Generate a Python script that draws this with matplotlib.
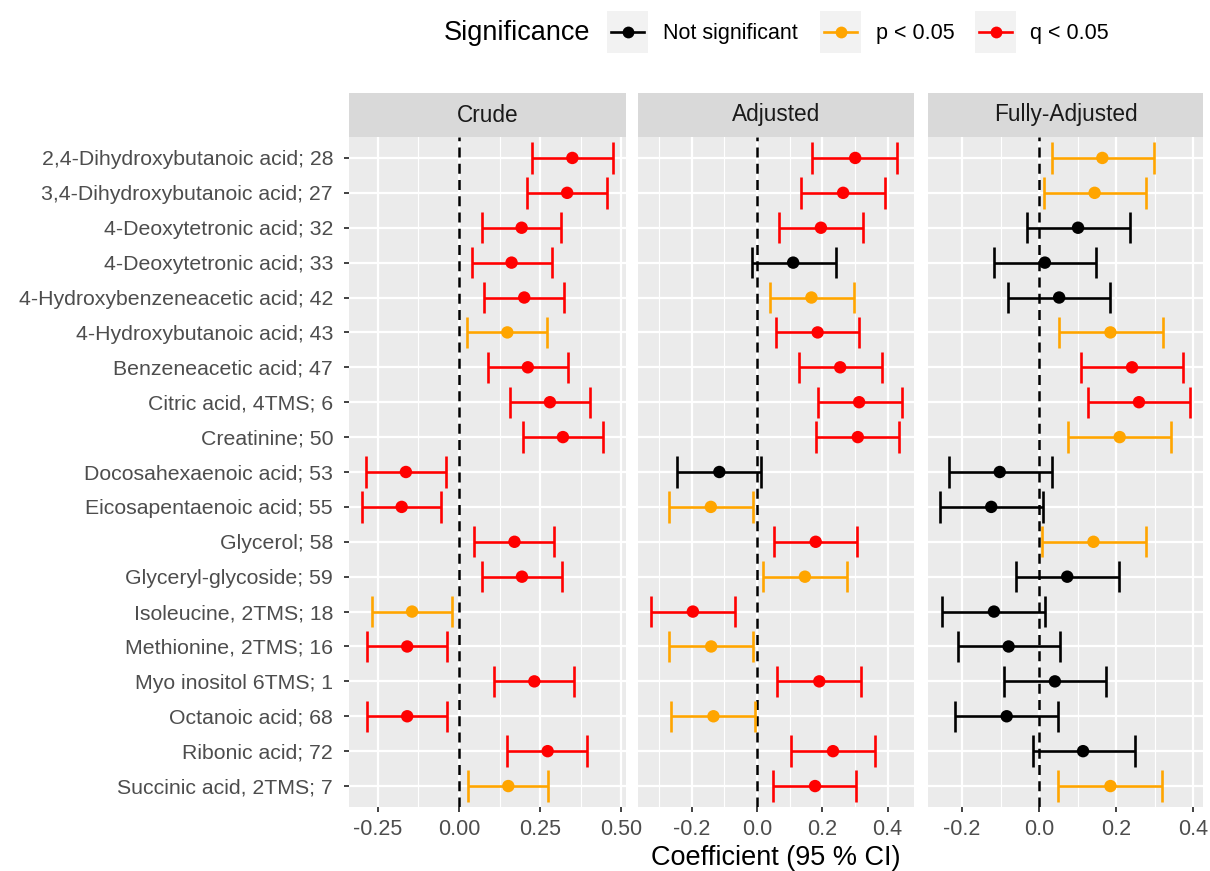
import numpy as np
import matplotlib
matplotlib.use("Agg")
import matplotlib.pyplot as plt
from matplotlib.lines import Line2D
from matplotlib.patches import Rectangle
from matplotlib.ticker import FixedLocator

plt.rcParams['font.family'] = ['Liberation Sans', 'DejaVu Sans']

metabolites = [
    "2,4-Dihydroxybutanoic acid; 28", "3,4-Dihydroxybutanoic acid; 27",
    "4-Deoxytetronic acid; 32", "4-Deoxytetronic acid; 33",
    "4-Hydroxybenzeneacetic acid; 42", "4-Hydroxybutanoic acid; 43",
    "Benzeneacetic acid; 47", "Citric acid, 4TMS; 6", "Creatinine; 50",
    "Docosahexaenoic acid; 53", "Eicosapentaenoic acid; 55", "Glycerol; 58",
    "Glyceryl-glycoside; 59", "Isoleucine, 2TMS; 18", "Methionine, 2TMS; 16",
    "Myo inositol 6TMS; 1", "Octanoic acid; 68", "Ribonic acid; 72",
    "Succinic acid, 2TMS; 7",
]
models = ["Crude", "Adjusted", "Fully-Adjusted"]

# crude
crude_est = [0.349, 0.333, 0.193, 0.162, 0.201, 0.149, 0.212, 0.280, 0.320, -0.163,
             -0.176, 0.171, 0.194, -0.144, -0.159, 0.232, -0.159, 0.273, 0.152]
crude_lo = [0.226, 0.211, 0.070, 0.040, 0.077, 0.024, 0.088, 0.158, 0.196, -0.287,
            -0.299, 0.048, 0.072, -0.268, -0.284, 0.109, -0.284, 0.149, 0.027]
crude_hi = [0.473, 0.455, 0.314, 0.285, 0.324, 0.271, 0.335, 0.403, 0.442, -0.040,
            -0.054, 0.294, 0.316, -0.021, -0.038, 0.355, -0.036, 0.395, 0.274]
crude_sig = ["q", "q", "q", "q", "q", "p", "q", "q", "q", "q",
             "q", "q", "q", "p", "q", "q", "q", "q", "p"]

# adjusted
adj_est = [0.301, 0.264, 0.196, 0.111, 0.167, 0.186, 0.255, 0.313, 0.309, -0.115,
           -0.141, 0.180, 0.147, -0.196, -0.140, 0.191, -0.133, 0.233, 0.178]
adj_lo = [0.170, 0.135, 0.069, -0.015, 0.041, 0.057, 0.130, 0.186, 0.181, -0.244,
          -0.268, 0.051, 0.019, -0.324, -0.268, 0.062, -0.262, 0.104, 0.049]
adj_hi = [0.428, 0.392, 0.325, 0.241, 0.297, 0.314, 0.384, 0.443, 0.436, 0.012,
          -0.011, 0.308, 0.276, -0.067, -0.011, 0.318, -0.005, 0.361, 0.304]
adj_sig = ["q", "q", "q", "ns", "p", "q", "q", "q", "q", "ns",
           "p", "q", "p", "q", "p", "q", "p", "q", "q"]

# fully adjusted
full_est = [0.164, 0.144, 0.101, 0.015, 0.052, 0.185, 0.241, 0.259, 0.209, -0.102,
            -0.124, 0.141, 0.073, -0.117, -0.079, 0.041, -0.084, 0.114, 0.185]
full_lo = [0.034, 0.012, -0.032, -0.118, -0.081, 0.052, 0.108, 0.127, 0.076, -0.233,
           -0.256, 0.008, -0.061, -0.251, -0.211, -0.091, -0.218, -0.017, 0.050]
full_hi = [0.297, 0.277, 0.235, 0.148, 0.184, 0.320, 0.374, 0.392, 0.343, 0.033,
           0.010, 0.276, 0.206, 0.015, 0.054, 0.174, 0.048, 0.248, 0.318]
full_sig = ["p", "p", "ns", "ns", "ns", "p", "q", "q", "p", "ns",
            "ns", "p", "ns", "ns", "ns", "ns", "ns", "ns", "p"]

sig_keys = ["ns", "p", "q"]
sig_labels = ["Not significant", "p < 0.05", "q < 0.05"]
sig_colors = {"ns": "#000000", "p": "#FFA500", "q": "#FF0000"}

panels = [
    (crude_est, crude_lo, crude_hi, crude_sig),
    (adj_est, adj_lo, adj_hi, adj_sig),
    (full_est, full_lo, full_hi, full_sig),
]
xlims = [(-0.338, 0.514), (-0.364, 0.481), (-0.288, 0.425)]
major = [[-0.25, 0.0, 0.25, 0.5], [-0.2, 0.0, 0.2, 0.4], [-0.2, 0.0, 0.2, 0.4]]
minor = [[-0.375, -0.125, 0.125, 0.375], [-0.3, -0.1, 0.1, 0.3], [-0.3, -0.1, 0.1, 0.3]]
major_lab = [["-0.25", "0.00", "0.25", "0.50"], ["-0.2", "0.0", "0.2", "0.4"],
             ["-0.2", "0.0", "0.2", "0.4"]]

W, H = 1210, 871
fig = plt.figure(figsize=(W / 100, H / 100), dpi=100)
fig.patch.set_facecolor("white")

lefts = [349, 638, 928]
widths = [277, 276, 275]
ptop, pbot = 137, 807
strip_top = 93

y = np.arange(1, len(metabolites) + 1)
lw = 1.9

for i, (est, lo, hi, sig) in enumerate(panels):
    ax = fig.add_axes([lefts[i] / W, 1 - pbot / H, widths[i] / W, (pbot - ptop) / H])
    ax.set_facecolor("#EBEBEB")
    for s in ax.spines.values():
        s.set_visible(False)
    ax.set_xlim(*xlims[i])
    ax.set_ylim(len(metabolites) + 0.6, 0.4)
    ax.xaxis.set_major_locator(FixedLocator(major[i]))
    ax.xaxis.set_minor_locator(FixedLocator(minor[i]))
    ax.set_xticklabels(major_lab[i])
    ax.set_yticks(y)
    ax.grid(True, which="major", color="white", linewidth=1.6)
    ax.grid(True, which="minor", axis="x", color="white", linewidth=0.8)
    ax.set_axisbelow(True)
    ax.tick_params(axis="x", which="major", length=3.5, width=1.3, color="#333333",
                   labelcolor="#4D4D4D", labelsize=15.5, pad=5)
    ax.tick_params(axis="x", which="minor", length=0)
    if i == 0:
        ax.set_yticklabels(metabolites)
        ax.tick_params(axis="y", length=3.5, width=1.3, color="#333333",
                       labelcolor="#4D4D4D", labelsize=15.3, pad=8)
    else:
        ax.tick_params(axis="y", length=0, labelleft=False)

    ax.axvline(0, color="black", linestyle=(0, (4, 2.5)), linewidth=1.8, zorder=2)

    cols = [sig_colors[s] for s in sig]
    ax.hlines(y, lo, hi, colors=cols, linewidth=lw, zorder=3)
    ax.vlines(lo, y - 0.45, y + 0.45, colors=cols, linewidth=lw, zorder=3)
    ax.vlines(hi, y - 0.45, y + 0.45, colors=cols, linewidth=lw, zorder=3)
    ax.scatter(est, y, s=80, c=cols, zorder=4, linewidths=0)

    # strip
    sax = fig.add_axes([lefts[i] / W, 1 - ptop / H, widths[i] / W, (ptop - strip_top) / H])
    sax.set_facecolor("#D9D9D9")
    sax.set_xticks([])
    sax.set_yticks([])
    for s in sax.spines.values():
        s.set_visible(False)
    sax.text(0.5, 0.5, models[i], ha="center", va="center", fontsize=16.3,
             color="#1A1A1A", transform=sax.transAxes)

fig.text(776 / W, 1 - 858 / H, "Coefficient (95 % CI)", ha="center", va="center",
         fontsize=19.5, color="black")

# legend
fig.text(444 / W, 1 - 33 / H, "Significance", ha="left", va="center", fontsize=19.5)
key_x = [607, 820, 975]
lab_x = [663, 876, 1030]
for kx, lx, k, lab in zip(key_x, lab_x, sig_keys, sig_labels):
    fig.patches.append(Rectangle((kx / W, 1 - 53 / H), 41 / W, 42 / H,
                                 transform=fig.transFigure, facecolor="#F2F2F2",
                                 edgecolor="none"))
    fig.lines.append(Line2D([(kx + 4) / W, (kx + 37) / W], [1 - 32 / H, 1 - 32 / H],
                            transform=fig.transFigure, color=sig_colors[k], linewidth=lw))
    fig.lines.append(Line2D([(kx + 20.5) / W], [1 - 32 / H], transform=fig.transFigure,
                            marker="o", markersize=8.5, color=sig_colors[k],
                            markeredgewidth=0))
    fig.text(lx / W, 1 - 33 / H, lab, ha="left", va="center", fontsize=15.5)

fig.savefig("out.png", dpi=100)
